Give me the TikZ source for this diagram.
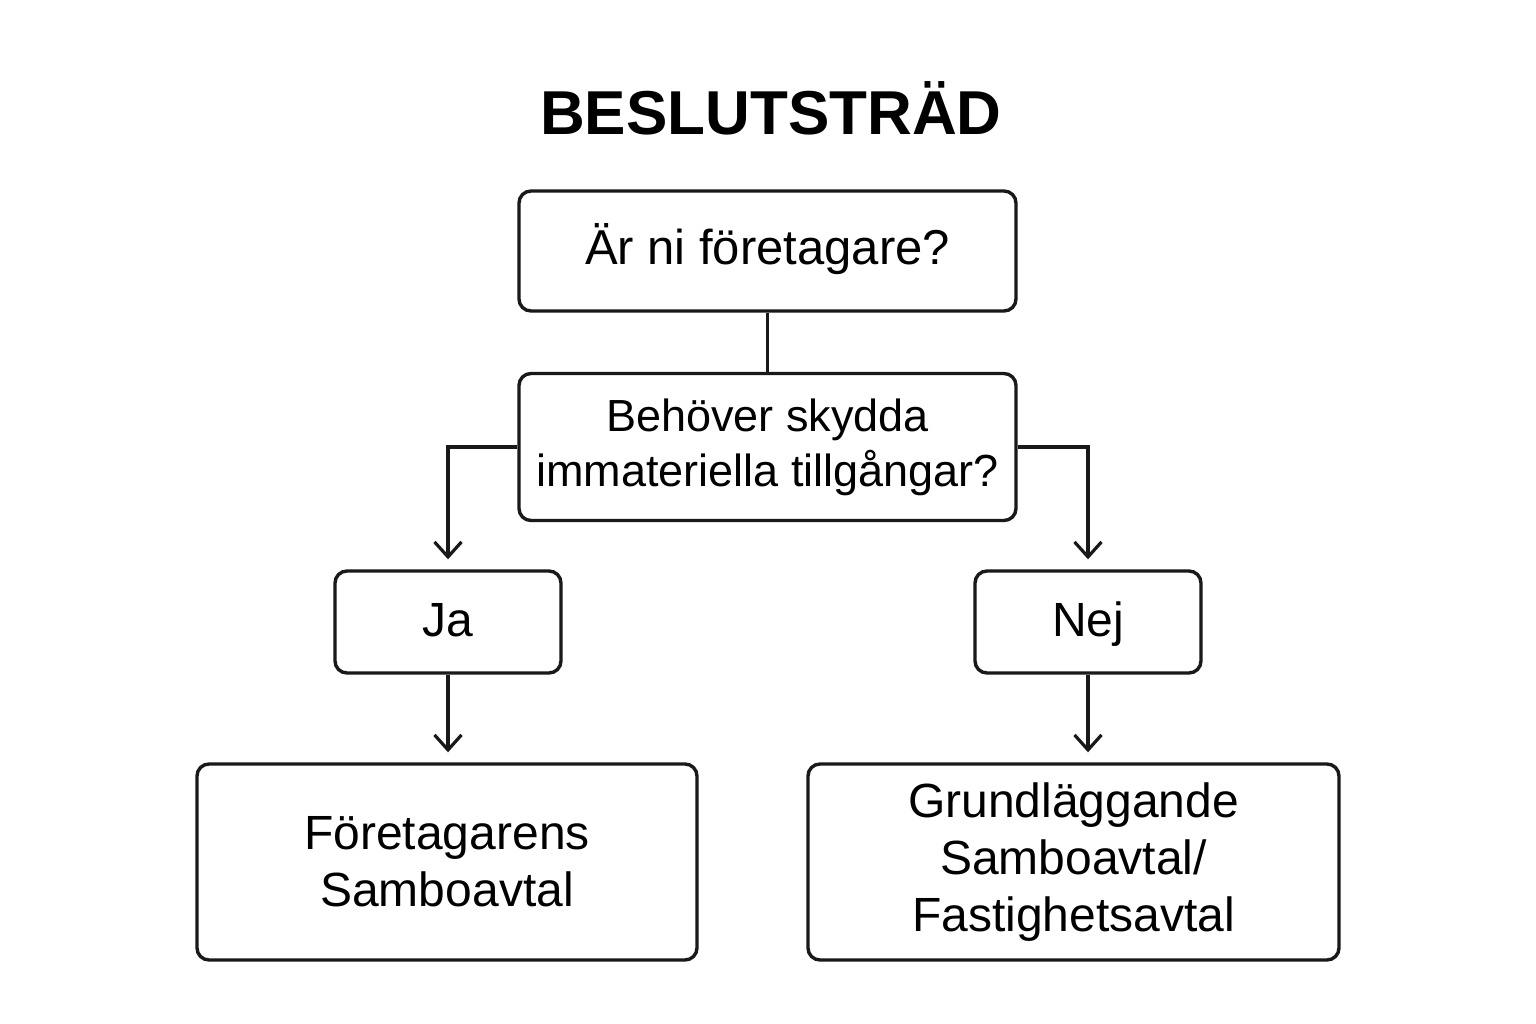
\documentclass[tikz,border=0pt]{standalone}
\usepackage{fontspec}
\setmainfont{Liberation Sans}
\usetikzlibrary{arrows.meta}
\begin{document}
\begin{tikzpicture}[x=1pt,y=-1pt,
  box/.style={draw=black!90, line width=3.4pt, rounded corners=12pt, align=center, inner sep=0pt},
  conn/.style={draw=black!90, line width=3.2pt},
  arr/.style={conn, -{Straight Barb[length=15pt,width=27pt,line width=3.2pt]}, shorten >=10pt},
  txt/.style={font=\fontsize{48}{57}\selectfont},
  oneline/.style={text height=31pt, text depth=3pt}
]
\useasboundingbox[fill=white] (0,0) rectangle (1536,1024);
\node[font=\fontsize{62}{70}\selectfont\bfseries] (title) at (771,108) {BESLUTSTRÄD};
\node[box, oneline, minimum width=497pt, minimum height=120pt, font=\fontsize{49}{57}\selectfont] (b1) at (767.5,251) {Är ni företagare?};
\node[box, minimum width=497pt, minimum height=147pt, font=\fontsize{45}{55}\selectfont] (b2) at (767.5,447) {Behöver skydda\\immateriella tillgångar?};
\node[box, txt, oneline, minimum width=226pt, minimum height=102pt] (ja) at (448,622) {Ja};
\node[box, txt, oneline, minimum width=226pt, minimum height=102pt] (nej) at (1088,622) {Nej};
\node[box, txt, minimum width=500pt, minimum height=196pt] (l) at (447,862) {Företagarens\\Samboavtal};
\node[box, txt, minimum width=531pt, minimum height=196pt] (r) at (1073.5,862) {Grundläggande\\Samboavtal/\\Fastighetsavtal\vphantom{g}};
\draw[conn] (b1.south) -- (b2.north);
\draw[arr] (b2.west) -| (ja.north);
\draw[arr] (b2.east) -| (nej.north);
\draw[arr] (ja.south) -- (ja.south |- l.north);
\draw[arr] (nej.south) -- (nej.south |- r.north);
\end{tikzpicture}
\end{document}
